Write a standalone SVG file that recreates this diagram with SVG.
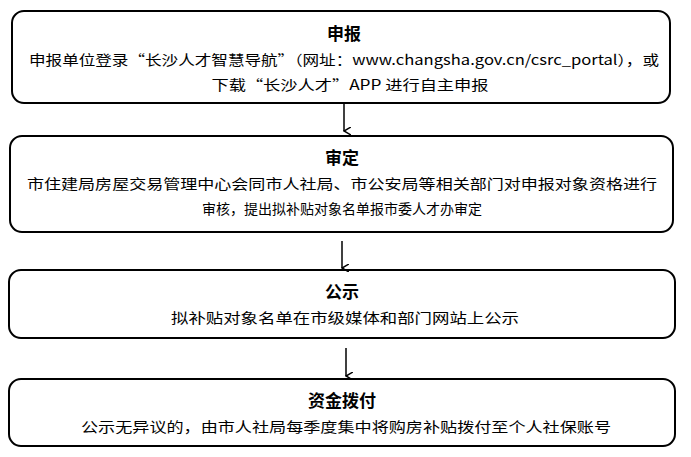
<svg xmlns="http://www.w3.org/2000/svg" width="691" height="457" viewBox="0 0 691 457">
<style>
.box{fill:#fff;stroke:#000;stroke-width:2}
.t{font-family:"Noto Sans CJK SC",sans-serif;font-size:17px;font-weight:bold;text-anchor:middle;fill:#000}
.b{font-family:"Noto Sans CJK SC",sans-serif;font-size:14px;text-anchor:middle;fill:#000}
.c{stroke:#000;stroke-width:1.5;fill:none}
</style>
<defs><marker id="ah" markerWidth="8" markerHeight="8" refX="4" refY="7" orient="auto" markerUnits="userSpaceOnUse"><path d="M0,0 L4,7 L8,0" fill="none" stroke="#000" stroke-width="1.5"/></marker></defs>
<rect width="691" height="457" fill="#fff"/>
<g id="n1"><rect class="box" x="12" y="11" width="658" height="92" rx="12"/>
<text class="t" x="344" y="40">申报</text>
<text class="b" x="344" y="65" textLength="630" lengthAdjust="spacingAndGlyphs">申报单位登录“长沙人才智慧导航”（网址：www.changsha.gov.cn/csrc_portal），或</text>
<text class="b" x="350" y="90" textLength="277" lengthAdjust="spacingAndGlyphs">下载“长沙人才”APP 进行自主申报</text>
</g>
<g id="n2"><rect class="box" x="10" y="136" width="663" height="96" rx="12"/>
<text class="t" x="342" y="164">审定</text>
<text class="b" x="342" y="189" textLength="630" lengthAdjust="spacingAndGlyphs">市住建局房屋交易管理中心会同市人社局、市公安局等相关部门对申报对象资格进行</text>
<text class="b" x="342" y="214">审核，提出拟补贴对象名单报市委人才办审定</text>
</g>
<g id="n3"><rect class="box" x="9" y="270" width="666" height="68" rx="12"/>
<text class="t" x="342" y="298">公示</text>
<text class="b" x="345" y="323" textLength="348" lengthAdjust="spacingAndGlyphs">拟补贴对象名单在市级媒体和部门网站上公示</text>
</g>
<g id="n4"><rect class="box" x="9" y="379" width="666" height="67" rx="12"/>
<text class="t" x="342" y="407">资金拨付</text>
<text class="b" x="346" y="432" textLength="530" lengthAdjust="spacingAndGlyphs">公示无异议的，由市人社局每季度集中将购房补贴拨付至个人社保账号</text>
</g>
<g id="connectors">
<line class="c" x1="344" y1="104" x2="344" y2="131" marker-end="url(#ah)"/>
<line class="c" x1="342" y1="241" x2="342" y2="268" marker-end="url(#ah)"/>
<line class="c" x1="346" y1="348" x2="346" y2="376" marker-end="url(#ah)"/>
</g>
</svg>
